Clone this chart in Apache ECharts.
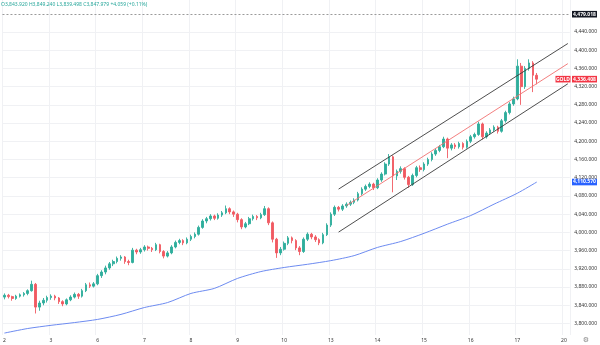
<!DOCTYPE html>
<html><head><meta charset="utf-8">
<script src="https://cdn.jsdelivr.net/npm/echarts@6/dist/echarts.min.js"></script>
<style>html,body{margin:0;padding:0;background:#fff}#c{width:600px;height:345px}</style>
</head><body><div id="c"></div>
<script>
// ---- data ----
const dayLabels = ['2','3','6','7','8','9','10','13','14','15','16','17','20'];
const candlesPerDay = 12;
// candles: [open, close, low, high]
const oct02 = [[3858,3862,3853,3866],[3862,3859,3855,3865],[3859,3855,3850,3861],[3855,3860,3852,3863],[3860,3863,3857,3866],[3863,3866,3859,3869],[3866,3872,3862,3875],[3872,3886,3870,3894],[3886,3836,3822,3889],[3836,3845,3828,3850],[3845,3851,3840,3856],[3851,3857,3846,3861]];
const oct03 = [[3857,3860,3852,3864],[3860,3856,3851,3863],[3856,3848,3843,3858],[3848,3843,3838,3851],[3843,3852,3840,3855],[3852,3858,3849,3862],[3858,3864,3855,3868],[3864,3860,3854,3867],[3860,3872,3857,3876],[3872,3885,3869,3889],[3885,3882,3878,3890],[3882,3887,3879,3891]];
const oct06 = [[3887,3905,3884,3909],[3905,3913,3900,3917],[3913,3922,3908,3927],[3922,3931,3918,3935],[3931,3936,3926,3940],[3936,3943,3932,3947],[3943,3946,3938,3950],[3946,3936,3931,3948],[3936,3934,3928,3940],[3934,3961,3932,3966],[3961,3957,3952,3964],[3957,3962,3953,3966]];
const oct07 = [[3962,3968,3958,3972],[3968,3965,3960,3971],[3965,3962,3957,3968],[3962,3973,3959,3977],[3973,3958,3954,3975],[3958,3948,3943,3961],[3948,3955,3945,3959],[3955,3968,3952,3972],[3968,3978,3965,3982],[3978,3982,3974,3986],[3982,3977,3972,3985],[3977,3985,3974,3989]];
const oct08 = [[3985,3991,3981,3995],[3991,3996,3987,4000],[3996,4011,3993,4015],[4011,4025,4008,4029],[4025,4030,4020,4034],[4030,4036,4026,4040],[4036,4031,4027,4039],[4031,4038,4028,4042],[4038,4043,4034,4047],[4043,4052,4040,4059],[4052,4045,4040,4055],[4045,4040,4034,4048]];
const oct09 = [[4040,4028,4022,4043],[4028,4012,4007,4031],[4012,4019,4009,4023],[4019,4030,4016,4034],[4030,4035,4026,4039],[4035,4032,4027,4038],[4032,4039,4029,4043],[4039,4052,4036,4058],[4052,4021,4016,4055],[4021,3985,3978,4024],[3985,3955,3944,3988],[3955,3963,3950,3968]];
const oct10 = [[3963,3976,3960,3980],[3976,3988,3972,3992],[3988,3982,3976,3991],[3982,3966,3961,3985],[3966,3958,3950,3970],[3958,3985,3955,3989],[3985,3996,3981,4000],[3996,3990,3985,3999],[3990,3984,3979,3994],[3984,3977,3972,3987],[3977,3995,3974,3999],[3995,4016,3992,4020]];
const oct13 = [[4016,4040,4012,4044],[4040,4055,4036,4059],[4055,4051,4046,4058],[4051,4058,4047,4062],[4058,4062,4054,4066],[4062,4066,4058,4070],[4066,4071,4062,4075],[4071,4085,4068,4089],[4085,4095,4081,4099],[4095,4101,4091,4105],[4101,4106,4097,4110],[4106,4098,4093,4109]];
const oct14 = [[4098,4115,4095,4119],[4115,4128,4111,4132],[4128,4150,4125,4154],[4150,4166,4146,4172],[4166,4124,4088,4169],[4124,4134,4115,4138],[4134,4140,4129,4145],[4140,4121,4116,4143],[4121,4105,4098,4124],[4105,4125,4102,4129],[4125,4142,4121,4146],[4142,4138,4133,4147]];
const oct15 = [[4138,4150,4134,4154],[4150,4160,4146,4164],[4160,4172,4156,4176],[4172,4180,4168,4184],[4180,4188,4176,4192],[4188,4205,4185,4210],[4205,4185,4163,4208],[4185,4192,4180,4196],[4192,4188,4183,4196],[4188,4195,4184,4199],[4195,4187,4182,4198],[4187,4200,4184,4204]];
const oct16 = [[4200,4210,4196,4214],[4210,4215,4206,4219],[4215,4238,4212,4243],[4238,4210,4204,4241],[4210,4218,4206,4222],[4218,4225,4214,4229],[4225,4231,4221,4235],[4231,4222,4217,4234],[4222,4245,4219,4249],[4245,4263,4241,4267],[4263,4282,4259,4286],[4282,4293,4278,4298]];
const oct17 = [[4293,4365,4290,4380],[4365,4320,4280,4372],[4320,4360,4315,4365],[4360,4372,4355,4380],[4372,4345,4308,4376],[4345,4336.408,4325,4350]];

const yTicks = [3800,3840,3880,3920,3960,4000,4040,4080,4120,4160,4200,4240,4280,4320,4360,4400,4440];
// moving average samples [candle index, value]
const maPoints = [[0,3779],[6,3789],[12,3796],[18,3802],[24,3809],[30,3820],[36,3835],[42,3846],[48,3866],[54,3877],[60,3899],[66,3914],[72,3923],[78,3930],[84,3938],[90,3949],[96,3967],[102,3980],[108,3998],[114,4018],[120,4037],[126,4062],[132,4086],[137,4110.57]];
// channel lines [candle index, value]
const channelUpper = [[86,4095.1],[145,4414.7]];
const channelMid = [[88,4058.8],[145,4370.5]];
const channelLower = [[86,4000.7],[145,4326.3]];
const alertLevel = 4479.018;
const lastPrice = 4336.408;
const maLast = 4110.570;
const headerText = 'O3,843.920 H3,849.240 L3,839.498 C3,847.979 +4.059 (+0.11%)';

// ---- build ----
const candles = [].concat(oct02,oct03,oct06,oct07,oct08,oct09,oct10,oct13,oct14,oct15,oct16,oct17);
const categories = [];
dayLabels.forEach((d, k) => {
  const n = k === dayLabels.length - 1 ? 2 : candlesPerDay;
  for (let j = 0; j < n; j++) categories.push(j === 0 ? d : '');
});
const fmt = v => v.toLocaleString('en-US', {minimumFractionDigits:3, maximumFractionDigits:3});
const FONT = '"Noto Sans", "DejaVu Sans", sans-serif';
const showDay = (i, v) => v !== '';

const chart = echarts.init(document.getElementById('c'), null, {renderer:'canvas'});
chart.setOption({
  animation: false,
  backgroundColor: '#ffffff',
  grid: {left: 1, right: 29.6, top: 0, bottom: 10, containLabel: false},
  xAxis: {
    type: 'category', data: categories, boundaryGap: true,
    axisLine: {show: false}, axisTick: {show: false},
    axisLabel: {interval: showDay, fontSize: 5, color: '#333', margin: 3, fontFamily: FONT},
    splitLine: {show: true, interval: showDay, lineStyle: {color: '#f0f1f4', width: 1}}
  },
  yAxis: {
    type: 'value', position: 'right', min: 3774.75, max: 4510.2, scale: true,
    axisLine: {show: false},
    axisTick: {show: false, customValues: yTicks},
    axisLabel: {customValues: yTicks, formatter: fmt, fontSize: 5, color: '#333', margin: 4.5, fontFamily: FONT},
    splitLine: {show: true, lineStyle: {color: '#f0f1f4', width: 1}}
  },
  series: [
    {
      type: 'candlestick', data: candles, barWidth: '55%',
      itemStyle: {color: '#2fae9c', color0: '#f05a62', borderColor: '#2fae9c', borderColor0: '#f05a62', borderWidth: 0.9},
      markLine: {
        silent: true, symbol: ['none','none'],
        label: {show: false},
        lineStyle: {type: [2,2], color: '#9a9a9a', width: 1},
        data: [{yAxis: alertLevel}]
      }
    },
    {type: 'line', data: maPoints, showSymbol: false, smooth: 0.25, lineStyle: {color: '#6d8bf0', width: 1}, z: 1},
    {type: 'line', data: channelUpper, showSymbol: false, lineStyle: {color: '#3a3a3a', width: 0.9}},
    {type: 'line', data: channelLower, showSymbol: false, lineStyle: {color: '#3a3a3a', width: 0.9}},
    {type: 'line', data: channelMid, showSymbol: false, lineStyle: {color: '#f07070', width: 0.9}}
  ]
});

function tag(text, x, y, w, bg) {
  return {type: 'group', children: [
    {type: 'rect', shape: {x: x, y: y - 3.3, width: w, height: 6.6}, style: {fill: bg}},
    {type: 'text', style: {text: text, x: x + w / 2, y: y, align: 'center', verticalAlign: 'middle', fill: '#fff', font: 'bold 5px ' + FONT}}
  ]};
}
const yA = chart.convertToPixel({yAxisIndex: 0}, alertLevel);
const yL = chart.convertToPixel({yAxisIndex: 0}, lastPrice);
const yM = chart.convertToPixel({yAxisIndex: 0}, maLast);
chart.setOption({graphic: [
  {type: 'text', style: {text: headerText, x: 1, y: 5, verticalAlign: 'middle', fill: '#26a69a', font: '5px ' + FONT}},
  tag(fmt(alertLevel), 572, yA, 25, '#131722'),
  tag('GOLD', 555.5, yL, 15, '#f23645'),
  tag(fmt(lastPrice), 572, yL, 25, '#f23645'),
  tag(fmt(maLast), 572, yM, 25, '#2962ff'),
  {type: 'text', style: {text: '⚙', x: 586, y: 340, align: 'center', verticalAlign: 'middle', fill: '#888', font: '7px "DejaVu Sans"'}}
]});
</script>
</body></html>
